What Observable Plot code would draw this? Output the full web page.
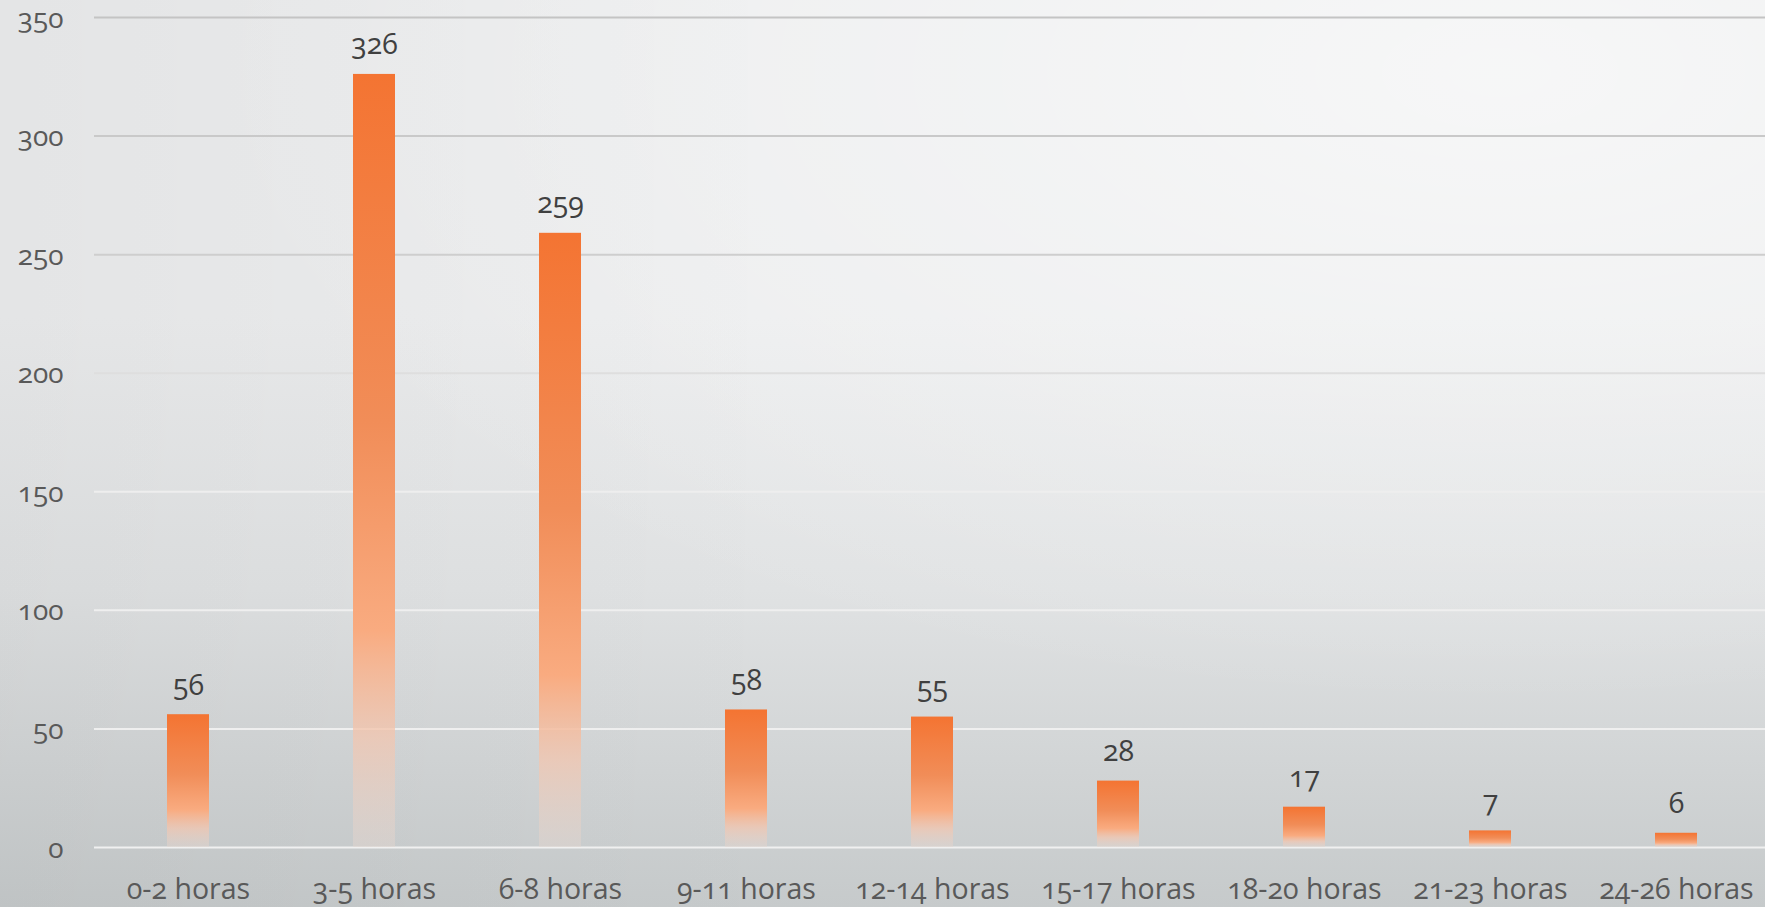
<!DOCTYPE html>
<html>
<head>
<meta charset="utf-8">
<script src="https://cdn.jsdelivr.net/npm/d3@7"></script>
<script src="https://cdn.jsdelivr.net/npm/@observablehq/plot@0.6"></script>
<style>
  html, body { margin: 0; padding: 0; }
  body {
    width: 1765px; height: 907px; overflow: hidden;
    background:
      linear-gradient(to right, rgba(0,0,0,0.035) 0%, rgba(0,0,0,0) 45%),
      radial-gradient(ellipse 75% 70% at 85% 8%, rgba(255,255,255,0.55) 0%, rgba(255,255,255,0) 100%),
      linear-gradient(to bottom, #ecedee 0%, #ecedee 35%, #e0e2e3 65%, #d1d4d5 85%, #c6cacb 100%);
  }
  svg text { font-variant-numeric: oldstyle-nums; font-feature-settings: "onum" 1; }
</style>
</head>
<body>
<div id="chart"></div>
<script>
const categories = ["0-2 horas", "3-5 horas", "6-8 horas", "9-11 horas", "12-14 horas", "15-17 horas", "18-20 horas", "21-23 horas", "24-26 horas"];
const values = [56, 326, 259, 58, 55, 28, 17, 7, 6];
const yTicks = [0, 50, 100, 150, 200, 250, 300, 350];

const data = categories.map((c, i) => ({cat: c, value: values[i]}));

const gridColor = d3.scaleLinear().domain([0, 150, 200, 250, 350]).range(["#f0f0f0", "#eeeeee", "#dedede", "#cecece", "#c4c4c4"]);

const chart = Plot.plot({
  width: 1765,
  height: 907,
  marginLeft: 94,
  marginRight: -5,
  marginTop: 17,
  marginBottom: 60,
  style: {background: "transparent", fontFamily: "'Open Sans', sans-serif", fontSize: "28px", overflow: "visible"},
  x: {domain: categories, paddingInner: 0.776, paddingOuter: 0.388, label: null},
  y: {domain: [0, 350], ticks: yTicks, label: null},
  marks: [
    Plot.ruleY(yTicks, {stroke: d => gridColor(d), strokeWidth: 2}),
    Plot.barY(data, {x: "cat", y: "value", fill: "url(#barGrad)"}),
    Plot.text(data, {x: "cat", y: "value", text: d => String(d.value), lineAnchor: "bottom", dy: -20, fill: "#404040", fontSize: 28.5}),
    Plot.axisY({ticks: yTicks, tickSize: 0, tickPadding: 31, lineAnchor: "bottom", dy: 10, fill: "#595959", fontSize: 28, label: null}),
    Plot.axisX({tickSize: 0, tickPadding: 0, lineAnchor: "bottom", dy: 51, fill: "#595959", fontSize: 28.5, label: null})
  ]
});

const defs = d3.select(chart).insert("defs", ":first-child");
const g = defs.append("linearGradient").attr("id", "barGrad").attr("x1", 0).attr("y1", 0).attr("x2", 0).attr("y2", 1);
[
  [0, "#f47432", 1],
  [0.45, "#f18d58", 1],
  [0.72, "#f9ab80", 1],
  [0.86, "#f2c6b0", 0.75],
  [1, "#e4d6cf", 0.45]
].forEach(([o, c, a]) => g.append("stop").attr("offset", o).attr("stop-color", c).attr("stop-opacity", a));

document.getElementById("chart").appendChild(chart);
</script>
</body>
</html>
